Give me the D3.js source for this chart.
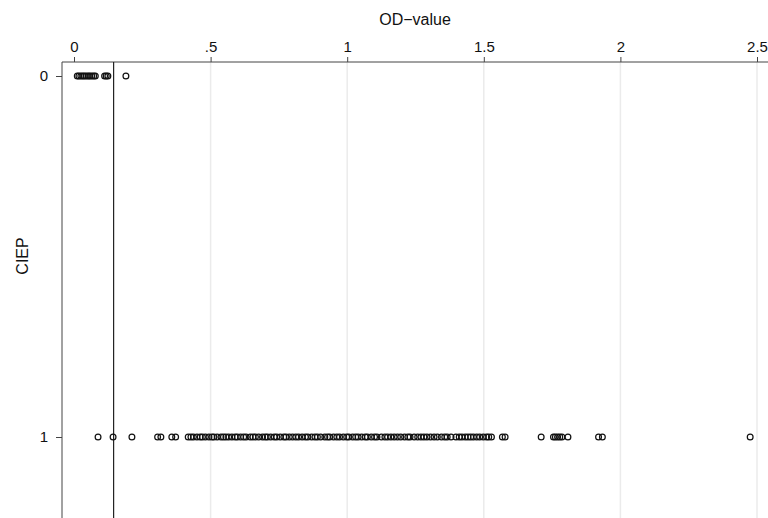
<!DOCTYPE html>
<html>
<head>
<meta charset="utf-8">
<script src="https://cdn.jsdelivr.net/npm/d3@7"></script>
<style>
  body { margin: 0; background: #fff; }
  svg { font-family: "Liberation Sans", Arial, sans-serif; }
</style>
</head>
<body>
<div id="chart"></div>
<script>
// CIEP categories and OD values
var categories = [0, 1];
var xTicks = [0, 0.5, 1, 1.5, 2, 2.5];
var cutoff = 0.145;

var odCiep0 = [0.012, 0.018, 0.025, 0.032, 0.038, 0.045, 0.052, 0.058, 0.065, 0.072, 0.078,
  0.112, 0.118, 0.124, 0.19];

var odCiep1 = [0.088, 0.143, 0.212, 0.306, 0.318, 0.358, 0.372,
  0.418, 0.428, 0.437, 0.45, 0.462, 0.47, 0.481, 0.494, 0.505, 0.512, 0.524, 0.538,
  0.547, 0.556, 0.566, 0.578, 0.59, 0.598, 0.61, 0.621, 0.63, 0.645, 0.655, 0.664,
  0.676, 0.69, 0.7, 0.708, 0.72, 0.733, 0.742, 0.755, 0.768, 0.776, 0.788, 0.8,
  0.812, 0.822, 0.835, 0.847, 0.856, 0.87, 0.882, 0.891, 0.903, 0.918, 0.928, 0.936,
  0.95, 0.962, 0.972, 0.986, 0.998, 1.006, 1.02, 1.031, 1.04, 1.053, 1.066, 1.074,
  1.088, 1.1, 1.109, 1.125, 1.138, 1.148, 1.16, 1.172, 1.184, 1.196, 1.21, 1.222,
  1.23, 1.245, 1.258, 1.27, 1.281, 1.292, 1.305, 1.318, 1.33, 1.345, 1.357, 1.366,
  1.38, 1.398, 1.41, 1.42, 1.432, 1.442, 1.452, 1.462, 1.474, 1.485, 1.498, 1.51,
  1.518, 1.528, 1.568, 1.578, 1.71, 1.755, 1.762, 1.77, 1.778, 1.786, 1.808,
  1.92, 1.934, 2.475];

var width = 768, height = 518;
var axisTop = 62, axisLeft = 62;

var svg = d3.select("#chart").append("svg")
  .attr("width", width)
  .attr("height", height);

var x = d3.scaleLinear().domain([0, 2.5]).range([74, 757]);
var y = d3.scaleLinear().domain([0, 1]).range([76, 437]);

// gridlines
svg.append("g")
  .selectAll("line")
  .data(xTicks.slice(1))
  .enter().append("line")
  .attr("x1", function(d) { return x(d); })
  .attr("x2", function(d) { return x(d); })
  .attr("y1", axisTop)
  .attr("y2", height)
  .style("stroke", "#ebebeb")
  .style("stroke-width", 1.5);

// top axis
var xAxis = svg.append("g")
  .attr("transform", "translate(0," + axisTop + ")")
  .call(d3.axisTop(x).tickValues(xTicks).tickSize(5).tickPadding(5)
    .tickFormat(function(d) { return d == 0 ? "0" : String(d).replace(/^0\./, "."); }));
xAxis.select(".domain").remove();
xAxis.append("line")
  .attr("x1", axisLeft).attr("x2", width)
  .attr("y1", 0).attr("y2", 0)
  .style("stroke", "#444").style("stroke-width", 1);
xAxis.selectAll(".tick line").style("stroke", "#444");
xAxis.selectAll("text").style("font-size", "15px").style("fill", "#111");

// left axis
var yAxis = svg.append("g")
  .attr("transform", "translate(" + axisLeft + ",0)")
  .call(d3.axisLeft(y).tickValues(categories).tickSize(6).tickPadding(8)
    .tickFormat(d3.format("d")));
yAxis.select(".domain").remove();
yAxis.append("line")
  .attr("x1", 0).attr("x2", 0)
  .attr("y1", axisTop).attr("y2", height)
  .style("stroke", "#444").style("stroke-width", 1);
yAxis.selectAll(".tick line").style("stroke", "#444");
yAxis.selectAll("text").style("font-size", "15px").style("fill", "#111");

// axis titles
svg.append("text")
  .attr("x", 415)
  .attr("y", 25)
  .style("text-anchor", "middle")
  .style("font-size", "16px")
  .style("fill", "#111")
  .text("OD\u2212value");

svg.append("text")
  .attr("transform", "rotate(-90)")
  .attr("x", -256)
  .attr("y", 28)
  .style("text-anchor", "middle")
  .style("font-size", "16px")
  .style("fill", "#111")
  .text("CIEP");

// cutoff line
svg.append("line")
  .attr("x1", x(cutoff)).attr("x2", x(cutoff))
  .attr("y1", axisTop).attr("y2", height)
  .style("stroke", "#222").style("stroke-width", 1.2);

// points
var rows = [{c: 0, v: odCiep0}, {c: 1, v: odCiep1}];
rows.forEach(function(r) {
  svg.append("g")
    .selectAll("circle")
    .data(r.v)
    .enter().append("circle")
    .attr("cx", function(d) { return x(d); })
    .attr("cy", y(r.c))
    .attr("r", 2.9)
    .style("fill", "none")
    .style("stroke", "#111")
    .style("stroke-width", 1.2);
});
</script>
</body>
</html>
